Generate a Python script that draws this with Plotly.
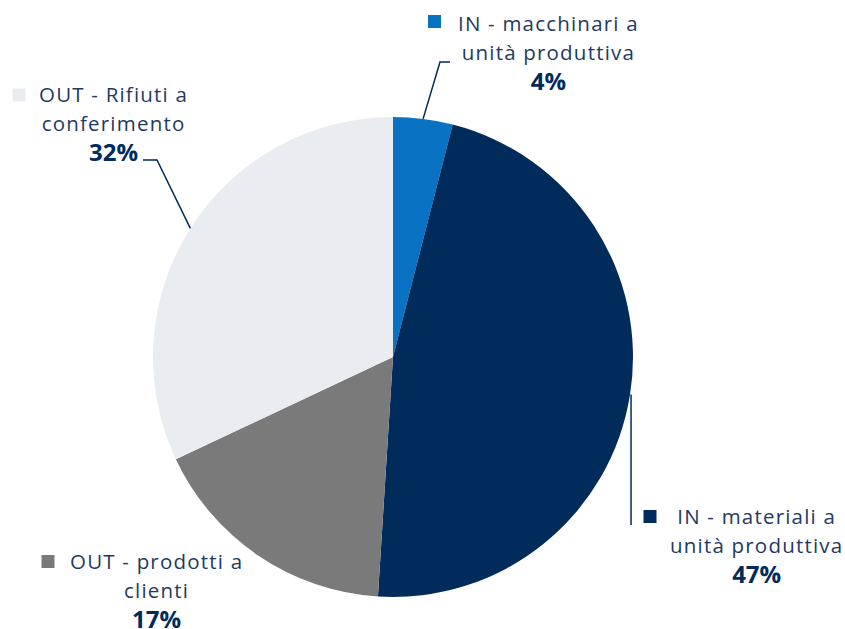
import math
import plotly.graph_objects as go

# Flows: share of each category (percent)
categories = [
    "IN - macchinari a unità produttiva",
    "IN - materiali a unità produttiva",
    "OUT - prodotti a clienti",
    "OUT - Rifiuti a conferimento",
]
label_lines = [
    ["IN - macchinari a", "unità produttiva"],
    ["IN - materiali a", "unità produttiva"],
    ["OUT - prodotti a", "clienti"],
    ["OUT - Rifiuti a", "conferimento"],
]
values = [4, 47, 17, 32]
colors = ["#0A72C2", "#002B5A", "#7A7A7A", "#E9ECF0"]

W, H = 845, 629
CX, CY, R = 393, 357, 240          # pie centre and radius in pixels
TEXT = "#1E3A62"
BOLD = "#002B5A"
LINE = "#002B5A"
FONT = "Open Sans"

def px(x):
    return x / W

def py(y):
    return 1 - y / H

fig = go.Figure(go.Pie(
    labels=categories,
    values=values,
    sort=False,
    direction="clockwise",
    rotation=0,
    marker=dict(colors=colors, line=dict(width=0)),
    textinfo="none",
    hoverinfo="label+percent",
    showlegend=False,
    domain=dict(x=[px(CX - R), px(CX + R)], y=[py(CY + R), py(CY - R)]),
))

# Mid-angle of every slice (clockwise from 12 o'clock) and its rim point
total = sum(values)
rim = []
cum = 0
for v in values:
    mid = (cum + v / 2) / total * 2 * math.pi
    rim.append((CX + R * math.sin(mid), CY - R * math.cos(mid)))
    cum += v

# Label block placement: centre x, centre y of the block, marker square centre
label_pos = [
    (548, 53, (434.5, 21.5)),
    (756, 546, (650, 516.5)),
    (156, 591, (48, 561.5)),
    (113, 124, (19, 95)),
]

for i, (lx, ly, (sx, sy)) in enumerate(label_pos):
    pct = round(values[i] / total * 100)
    rows = [f"<span style='font-size:20.5px;letter-spacing:1.2px'>{t}</span>"
            for t in label_lines[i]]
    rows.append(f"<b style='font-size:24px;color:{BOLD}'>{pct}%</b>")
    fig.add_annotation(
        x=px(lx), y=py(ly), xref="paper", yref="paper",
        text="<br>".join(rows), align="center",
        showarrow=False, xanchor="center", yanchor="middle",
        font=dict(family=FONT, size=22.5, color=TEXT),
    )
    half = 6.5
    fig.add_shape(
        type="rect", xref="paper", yref="paper",
        x0=px(sx - half), x1=px(sx + half), y0=py(sy + half), y1=py(sy - half),
        fillcolor=colors[i], line=dict(width=0),
    )

# Leader lines from slice rims to their labels
def path(points):
    return "M " + " L ".join(f"{px(x)},{py(y)}" for x, y in points)

leaders = [
    [rim[0], (440, 62), (450, 62)],
    [(rim[1][0] + 1, rim[1][1]), (rim[1][0] + 1, 525)],
    [rim[3], (157, 160), (143, 160)],
]
for pts in leaders:
    fig.add_shape(type="path", xref="paper", yref="paper", path=path(pts),
                  line=dict(color=LINE, width=1.5))

fig.update_layout(
    width=W, height=H,
    margin=dict(l=0, r=0, t=0, b=0),
    paper_bgcolor="white",
    plot_bgcolor="white",
)

fig.write_html("out.html")
